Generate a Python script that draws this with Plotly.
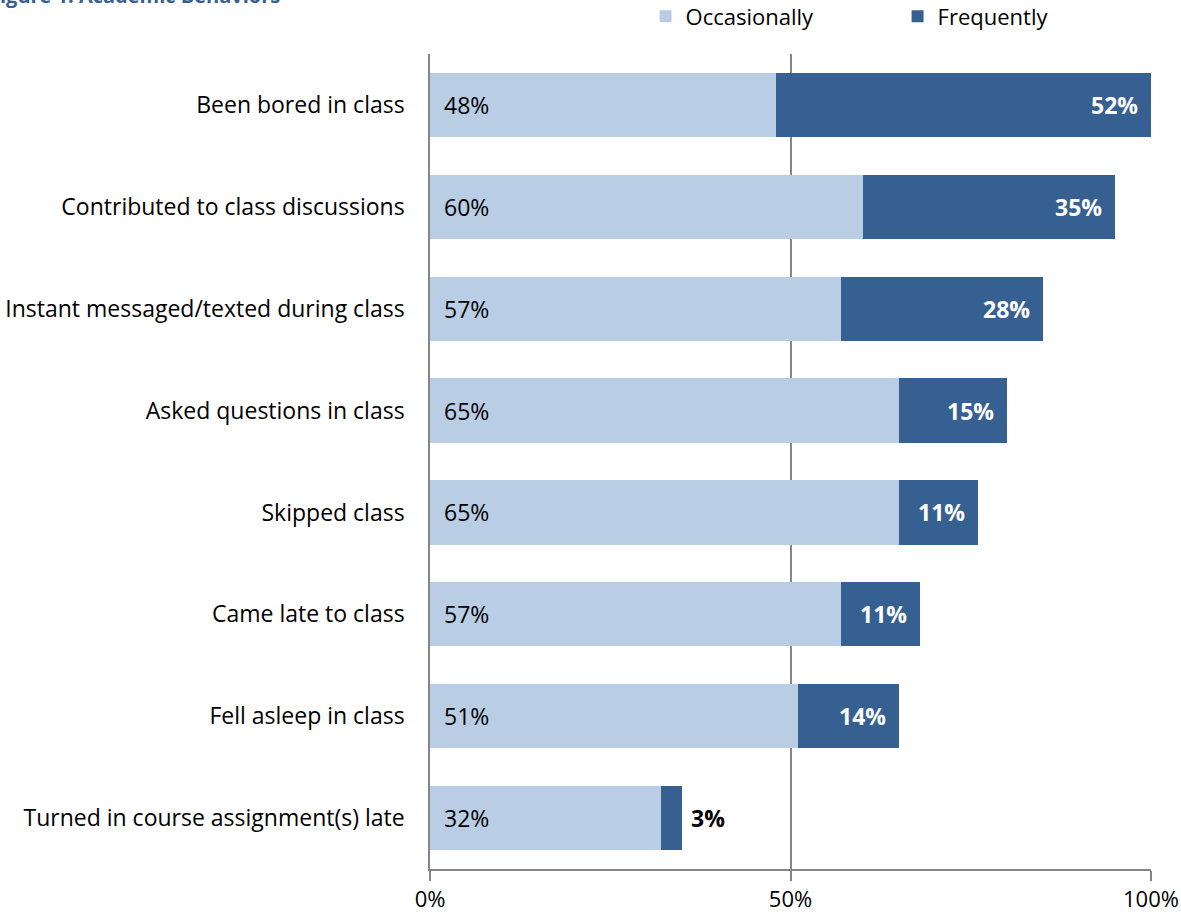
import plotly.graph_objects as go

categories = [
    "Been bored in class",
    "Contributed to class discussions",
    "Instant messaged/texted during class",
    "Asked questions in class",
    "Skipped class",
    "Came late to class",
    "Fell asleep in class",
    "Turned in course assignment(s) late",
]
occasionally = [48, 60, 57, 65, 65, 57, 51, 32]
frequently = [52, 35, 28, 15, 11, 11, 14, 3]
x_ticks = [0, 50, 100]
x_tick_labels = ["0%", "50%", "100%"]

C_OCC = "#B9CDE5"
C_FREQ = "#376092"
FONT = "Open Sans, sans-serif"
FS = 23

fig = go.Figure()
fig.add_trace(go.Bar(
    y=categories, x=occasionally, orientation="h", name="Occasionally",
    marker=dict(color=C_OCC, line=dict(width=0)),
))
fig.add_trace(go.Bar(
    y=categories, x=frequently, orientation="h", name="Frequently",
    marker=dict(color=C_FREQ, line=dict(width=0)),
))

annotations = []
for cat, o, f in zip(categories, occasionally, frequently):
    annotations.append(dict(
        x=0, y=cat, xref="x", yref="y", text=f"{o}%", showarrow=False,
        xanchor="left", xshift=12, font=dict(size=FS, color="#000000", family=FONT),
    ))
    if f >= 8:
        annotations.append(dict(
            x=o + f, y=cat, xref="x", yref="y", text=f"<b>{f}%</b>", showarrow=False,
            xanchor="right", xshift=-11, font=dict(size=FS, color="#FFFFFF", family=FONT),
        ))
    else:
        annotations.append(dict(
            x=o + f, y=cat, xref="x", yref="y", text=f"<b>{f}%</b>", showarrow=False,
            xanchor="left", xshift=7, font=dict(size=FS, color="#000000", family=FONT),
        ))

annotations.append(dict(
    x=-0.615, y=1.072, xref="paper", yref="paper", text="<b>Figure 1: Academic Behaviors</b>",
    showarrow=False, xanchor="left", yanchor="middle",
    font=dict(size=20, color="#376092", family=FONT),
))

fig.update_layout(
    barmode="stack",
    bargap=0.37,
    width=1181, height=917,
    margin=dict(l=430, r=30, t=54, b=48, autoexpand=False),
    plot_bgcolor="#FFFFFF", paper_bgcolor="#FFFFFF",
    font=dict(family=FONT, size=FS, color="#000000"),
    showlegend=True,
    legend=dict(
        orientation="h", x=0.299, y=1.046, xanchor="left", yanchor="middle",
        font=dict(size=22, family=FONT), entrywidth=207, entrywidthmode="pixels",
        itemwidth=30, traceorder="normal",
    ),
    annotations=annotations,
    xaxis=dict(
        range=[0, 100], tickvals=x_ticks, ticktext=x_tick_labels,
        showgrid=True, gridcolor="#868686", gridwidth=1.5,
        showline=True, linecolor="#868686", linewidth=1.5,
        ticks="outside", ticklen=10, tickcolor="#868686", tickwidth=1.5,
        tickfont=dict(size=22), zeroline=False, fixedrange=True,
        ticklabelstandoff=0,
    ),
    yaxis=dict(
        autorange="reversed", showgrid=False, showline=True, linecolor="#868686",
        linewidth=1.5, ticks="", tickfont=dict(size=FS), ticklabelstandoff=19,
        fixedrange=True,
    ),
)

fig.write_html("out.html")
